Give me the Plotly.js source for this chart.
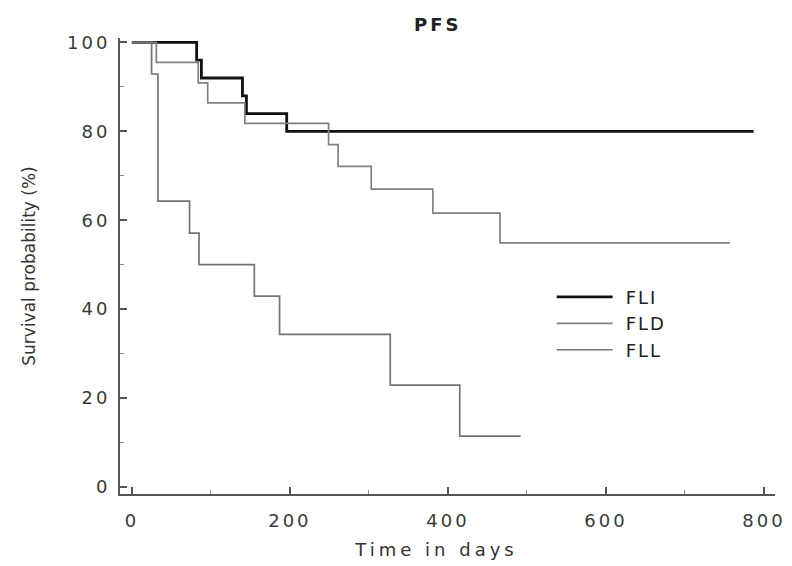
<!DOCTYPE html>
<html>
<head>
<meta charset="utf-8">
<script src="https://cdn.plot.ly/plotly-3.0.1.min.js"></script>
<style>
html,body{margin:0;padding:0;background:#fff;}
#chart{width:792px;height:566px;}
.xtick text,.ytick text{letter-spacing:3px;}
.xtitle{letter-spacing:4px;}
.gtitle{letter-spacing:3px;}
.legendtext{letter-spacing:2px;}
</style>
</head>
<body>
<div id="chart"></div>
<script>
// Kaplan-Meier PFS curves (time in days, survival probability in %)
const seriesNames = ["FLI", "FLD", "FLL"];
const fliDays = [0, 82, 88, 140, 145, 196, 787];
const fliSurv = [100, 96, 92, 88, 84, 80, 80];
const fldDays = [0, 31, 84, 96, 143, 249, 261, 303, 381, 466, 757];
const fldSurv = [100, 95.5, 90.9, 86.4, 81.8, 77.0, 72.1, 67.0, 61.6, 54.9, 54.9];
const fllDays = [0, 25, 33, 73, 85, 155, 187, 327, 415, 492];
const fllSurv = [100, 92.9, 64.3, 57.1, 50.0, 42.9, 34.3, 22.9, 11.4, 11.4];
const xTicks = [0, 200, 400, 600, 800];
const yTicks = [0, 20, 40, 60, 80, 100];

const font = "DejaVu Sans, Liberation Sans, Arial, sans-serif";

const traces = [
  {x: fliDays, y: fliSurv, name: seriesNames[0], mode: "lines",
   line: {shape: "hv", color: "#111111", width: 2.8}},
  {x: fldDays, y: fldSurv, name: seriesNames[1], mode: "lines",
   line: {shape: "hv", color: "#808080", width: 1.7}},
  {x: fllDays, y: fllSurv, name: seriesNames[2], mode: "lines",
   line: {shape: "hv", color: "#737373", width: 1.7}}
];

const layout = {
  width: 792, height: 566,
  margin: {l: 120, r: 17, t: 38, b: 72},
  paper_bgcolor: "#ffffff", plot_bgcolor: "#ffffff",
  font: {family: font, color: "#333333", size: 18},
  title: {text: "<b>PFS</b>", font: {family: font, size: 18, color: "#222222"},
          x: 0.485, xref: "paper", xanchor: "center", y: 0.957, yref: "container", yanchor: "middle"},
  showlegend: true,
  legend: {x: 0.659, y: 0.472, xanchor: "left", yanchor: "top",
           font: {family: font, size: 18, color: "#222222"},
           itemwidth: 56, bgcolor: "rgba(0,0,0,0)", tracegroupgap: 0},
  xaxis: {
    range: [-15, 814], tickvals: xTicks, ticktext: xTicks.map(String),
    showgrid: false, zeroline: false, showline: true, linecolor: "#555555", linewidth: 2,
    ticks: "inside", ticklen: 7, tickwidth: 2, tickcolor: "#555555",
    minor: {dtick: 100, tick0: 0, ticks: "inside", ticklen: 4, tickwidth: 1, tickcolor: "#888888", showgrid: false},
    tickfont: {family: font, size: 18, color: "#3a3a3a"}, ticklabelstandoff: 9,
    title: {text: "Time in days", font: {family: font, size: 18, color: "#333333"}, standoff: 14}
  },
  yaxis: {
    range: [-1.6, 101], tickvals: yTicks, ticktext: yTicks.map(String),
    showgrid: false, zeroline: false, showline: true, linecolor: "#555555", linewidth: 2,
    ticks: "inside", ticklen: 7, tickwidth: 2, tickcolor: "#555555",
    minor: {dtick: 10, tick0: 0, ticks: "inside", ticklen: 4, tickwidth: 1, tickcolor: "#888888", showgrid: false},
    tickfont: {family: font, size: 18, color: "#3a3a3a"}, ticklabelstandoff: 4,
    title: {text: "Survival probability (%)", font: {family: font, size: 17, color: "#333333"}, standoff: 27}
  }
};

Plotly.newPlot("chart", traces, layout, {displayModeBar: false, staticPlot: true}).then(function () {
  // nudge the x-axis title slightly left, as in the reference
  const xt = document.querySelector(".xtitle");
  if (xt) xt.setAttribute("x", (+xt.getAttribute("x") - 11).toString());
  // leave a wider gap between legend sample lines and their labels
  document.querySelectorAll(".legendtext").forEach(function (t) {
    t.setAttribute("x", (+t.getAttribute("x") + 8).toString());
  });
});
</script>
</body>
</html>
